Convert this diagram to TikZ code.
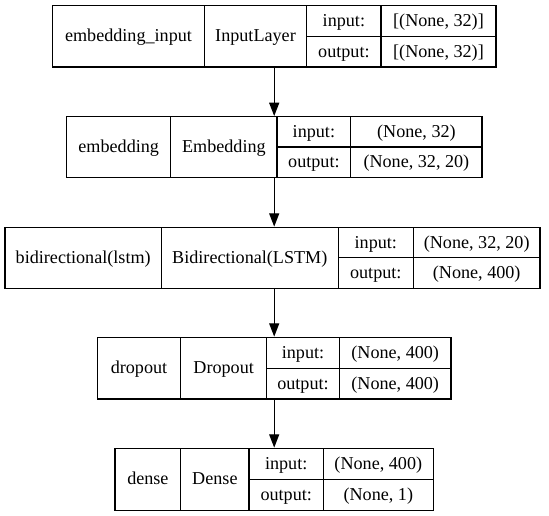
\documentclass[tikz,border=0pt]{standalone}
\usepackage{fontspec}
\setmainfont{Liberation Serif}
\usetikzlibrary{fit,arrows.meta}
\begin{document}
\begin{tikzpicture}[x=0.75pt,y=-0.75pt,
  every node/.style={font=\fontsize{13.6}{16}\selectfont},
  lbox/.style={draw=black,line width=1pt,inner sep=0pt},
  div/.style={draw=black,line width=1pt},
  lbl/.style={anchor=base,inner sep=0pt,yshift=-4.2pt},
  conn/.style={draw=black,line width=1pt,-{Triangle[length=10pt,width=7.5pt]}}]
\useasboundingbox (0,0) rectangle (549,516);

% Box 1
\node[lbox,fit={(52.7,5.7)(496,67)}] (b1) {};
\draw[div] (204.3,5.7) -- (204.3,67) (306.7,5.7) -- (306.7,67) (381,5.7) -- (381,67) (306.7,36.3) -- (496,36.3);
\node[lbl] (b1n) at (128.5,36.3) {embedding\_input};
\node[lbl] (b1t) at (255.5,36.3) {InputLayer};
\node[lbl] (b1i) at (343.9,21) {input:};
\node[lbl] (b1o) at (343.9,51.6) {output:};
\node[lbl] (b1iv) at (438.5,21) {[(None, 32)]};
\node[lbl] (b1ov) at (438.5,51.6) {[(None, 32)]};

% Box 2
\node[lbox,fit={(66.7,116.7)(482,177.3)}] (b2) {};
\draw[div] (170.7,116.7) -- (170.7,177.3) (277,116.7) -- (277,177.3) (350.7,116.7) -- (350.7,177.3) (277,147) -- (482,147);
\node[lbl] (b2n) at (118.7,147) {embedding};
\node[lbl] (b2t) at (223.9,147) {Embedding};
\node[lbl] (b2i) at (313.9,131.9) {input:};
\node[lbl] (b2o) at (313.9,162.2) {output:};
\node[lbl] (b2iv) at (416.4,131.9) {(None, 32)};
\node[lbl] (b2ov) at (416.4,162.2) {(None, 32, 20)};

% Box 3
\node[lbox,fit={(5,227.3)(540,288.3)}] (b3) {};
\draw[div] (161.3,227.3) -- (161.3,288.3) (338.3,227.3) -- (338.3,288.3) (413.3,227.3) -- (413.3,288.3) (338.3,257.8) -- (540,257.8);
\node[lbl] (b3n) at (83.2,257.8) {bidirectional(lstm)};
\node[lbl] (b3t) at (249.8,257.8) {Bidirectional(LSTM)};
\node[lbl] (b3i) at (375.8,242.6) {input:};
\node[lbl] (b3o) at (375.8,273.1) {output:};
\node[lbl] (b3iv) at (476.7,242.6) {(None, 32, 20)};
\node[lbl] (b3ov) at (476.7,273.1) {(None, 400)};

% Box 4
\node[lbox,fit={(97.3,337.3)(451,399)}] (b4) {};
\draw[div] (180.7,337.3) -- (180.7,399) (266.7,337.3) -- (266.7,399) (339.3,337.3) -- (339.3,399) (266.7,368.5) -- (451,368.5);
\node[lbl] (b4n) at (139,368.2) {dropout};
\node[lbl] (b4t) at (223.7,368.2) {Dropout};
\node[lbl] (b4i) at (303,352.9) {input:};
\node[lbl] (b4o) at (303,383.7) {output:};
\node[lbl] (b4iv) at (395.2,352.9) {(None, 400)};
\node[lbl] (b4ov) at (395.2,383.7) {(None, 400)};

% Box 5
\node[lbox,fit={(115,448.3)(433.3,510.3)}] (b5) {};
\draw[div] (180.7,448.3) -- (180.7,510.3) (249,448.3) -- (249,510.3) (323.3,448.3) -- (323.3,510.3) (249,479.3) -- (433.3,479.3);
\node[lbl] (b5n) at (147.9,479.3) {dense};
\node[lbl] (b5t) at (214.9,479.3) {Dense};
\node[lbl] (b5i) at (286.2,463.8) {input:};
\node[lbl] (b5o) at (286.2,494.8) {output:};
\node[lbl] (b5iv) at (378.3,463.8) {(None, 400)};
\node[lbl] (b5ov) at (378.3,494.8) {(None, 1)};

% Connectors
\coordinate (ax) at (274.2,0);
\draw[conn] (b1.south -| ax) -- (b2.north -| ax);
\draw[conn] (b2.south -| ax) -- (b3.north -| ax);
\draw[conn] (b3.south -| ax) -- (b4.north -| ax);
\draw[conn] (b4.south -| ax) -- (b5.north -| ax);
\end{tikzpicture}
\end{document}
